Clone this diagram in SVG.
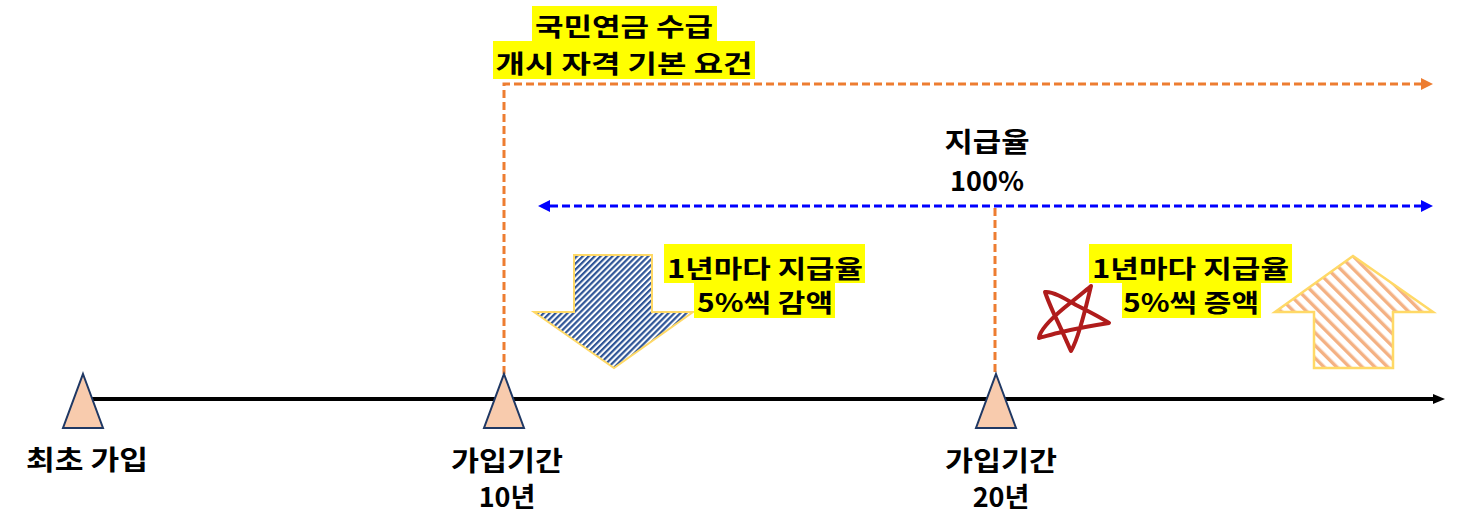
<svg xmlns="http://www.w3.org/2000/svg" width="1458" height="530" viewBox="0 0 1458 530">
<style>
  text { font-family: "Noto Sans CJK KR", "Noto Sans", sans-serif; font-weight: bold; fill: #000; text-anchor: middle; }
  .big { font-size: 27px; }
  .hl { font-size: 25px; }
  .hlbox { fill: #FFFF00; }
  .tri { fill: #F8CBAD; stroke: #1F3864; stroke-width: 2; stroke-linejoin: miter; }
  .orange { fill: none; stroke: #ED7D31; stroke-width: 3; stroke-dasharray: 8 4; }
  .blue { fill: none; stroke: #0000FF; stroke-width: 3; stroke-dasharray: 8 4; }
</style>
<defs>
  <marker id="mOrange" viewBox="0 0 12 12" refX="0" refY="6" markerWidth="12" markerHeight="12" markerUnits="userSpaceOnUse" orient="auto">
    <path d="M0,0 L12,6 L0,12 Z" fill="#ED7D31"/>
  </marker>
  <marker id="mBlue" viewBox="0 0 12 12" refX="0" refY="6" markerWidth="12" markerHeight="12" markerUnits="userSpaceOnUse" orient="auto-start-reverse">
    <path d="M0,0 L12,6 L0,12 Z" fill="#0000FF"/>
  </marker>
  <marker id="mBlack" viewBox="0 0 12 12" refX="0" refY="6" markerWidth="12" markerHeight="12" markerUnits="userSpaceOnUse" orient="auto">
    <path d="M0,1 L12,6 L0,11 Z" fill="#000"/>
  </marker>
  <pattern id="pBlue" patternUnits="userSpaceOnUse" width="4.2" height="10" patternTransform="rotate(45)">
    <rect width="4.2" height="10" fill="#FFFFFF"/>
    <rect width="2.2" height="10" fill="#2F5597"/>
  </pattern>
  <pattern id="pOrange" patternUnits="userSpaceOnUse" width="9" height="10" patternTransform="rotate(-45)">
    <rect width="9" height="10" fill="#FFFFFF"/>
    <rect width="3.4" height="10" fill="#F4B183"/>
  </pattern>
</defs>
<rect width="1458" height="530" fill="#FFFFFF"/>

<g id="connectors">
  <line x1="90" y1="399" x2="1433" y2="399" stroke="#000" stroke-width="4" marker-end="url(#mBlack)"/>
  <path class="orange" d="M504,374 V84 H1421" marker-end="url(#mOrange)"/>
  <line class="blue" x1="550" y1="206" x2="1421" y2="206" marker-start="url(#mBlue)" marker-end="url(#mBlue)"/>
  <line class="orange" x1="995" y1="208" x2="995" y2="374"/>
</g>

<g id="node-start">
  <polygon class="tri" points="83,374 103,428 63,428"/>
  <text class="big" x="87" y="470" textLength="122" lengthAdjust="spacingAndGlyphs">최초 가입</text>
</g>

<g id="node-10y">
  <polygon class="tri" points="504,374 524,428 484,428"/>
  <text class="big" x="507" y="471" textLength="112" lengthAdjust="spacingAndGlyphs">가입기간</text>
  <text class="big" x="507" y="507">10년</text>
</g>

<g id="node-20y">
  <polygon class="tri" points="996,374 1016,428 976,428"/>
  <text class="big" x="1001" y="471" textLength="112" lengthAdjust="spacingAndGlyphs">가입기간</text>
  <text class="big" x="1001" y="507">20년</text>
</g>

<g id="node-title">
  <rect class="hlbox" x="532" y="6" width="185" height="35"/>
  <rect class="hlbox" x="493" y="41" width="262" height="38"/>
  <text class="hl" x="624" y="36" textLength="178" lengthAdjust="spacingAndGlyphs">국민연금 수급</text>
  <text class="hl" x="624" y="73" textLength="257" lengthAdjust="spacingAndGlyphs">개시 자격 기본 요건</text>
</g>

<g id="node-rate">
  <text class="big" x="987" y="152" textLength="85" lengthAdjust="spacingAndGlyphs">지급율</text>
  <text class="big" x="987" y="191">100%</text>
</g>

<g id="node-down-arrow">
  <polygon points="574,255 652,255 652,312 693,312 614,368 534,312 574,312" fill="url(#pBlue)" stroke="#FFD966" stroke-width="2"/>
</g>

<g id="node-decrease">
  <rect class="hlbox" x="664" y="244" width="201" height="39"/>
  <rect class="hlbox" x="694" y="283" width="141" height="35"/>
  <text class="hl" x="765" y="278" textLength="196" lengthAdjust="spacingAndGlyphs">1년마다 지급율</text>
  <text class="hl" x="765" y="312" textLength="136" lengthAdjust="spacingAndGlyphs">5%씩 감액</text>
</g>

<g id="node-star">
  <path d="M1091,286 C1088,298 1085,312 1080,328 C1077,338 1074,346 1071,351 C1066,340 1060,326 1054,314 C1050,305 1047,298 1045,292 C1052,291 1064,298 1076,305 C1088,311 1100,317 1109,323 C1096,325 1078,328 1062,332 C1052,334 1044,337 1039,338 C1040,330 1052,318 1064,308 C1074,300 1084,292 1091,286" fill="none" stroke="#B01C1C" stroke-width="4" stroke-linejoin="round" stroke-linecap="round"/>
</g>

<g id="node-increase">
  <rect class="hlbox" x="1089" y="244" width="203" height="39"/>
  <rect class="hlbox" x="1122" y="283" width="139" height="35"/>
  <text class="hl" x="1190.5" y="278" textLength="197" lengthAdjust="spacingAndGlyphs">1년마다 지급율</text>
  <text class="hl" x="1191" y="312" textLength="136" lengthAdjust="spacingAndGlyphs">5%씩 증액</text>
</g>

<g id="node-up-arrow">
  <polygon points="1353,256 1433,312 1393,312 1393,368 1314,368 1314,312 1275,312" fill="url(#pOrange)" stroke="#FFD966" stroke-width="2.5"/>
</g>
</svg>
